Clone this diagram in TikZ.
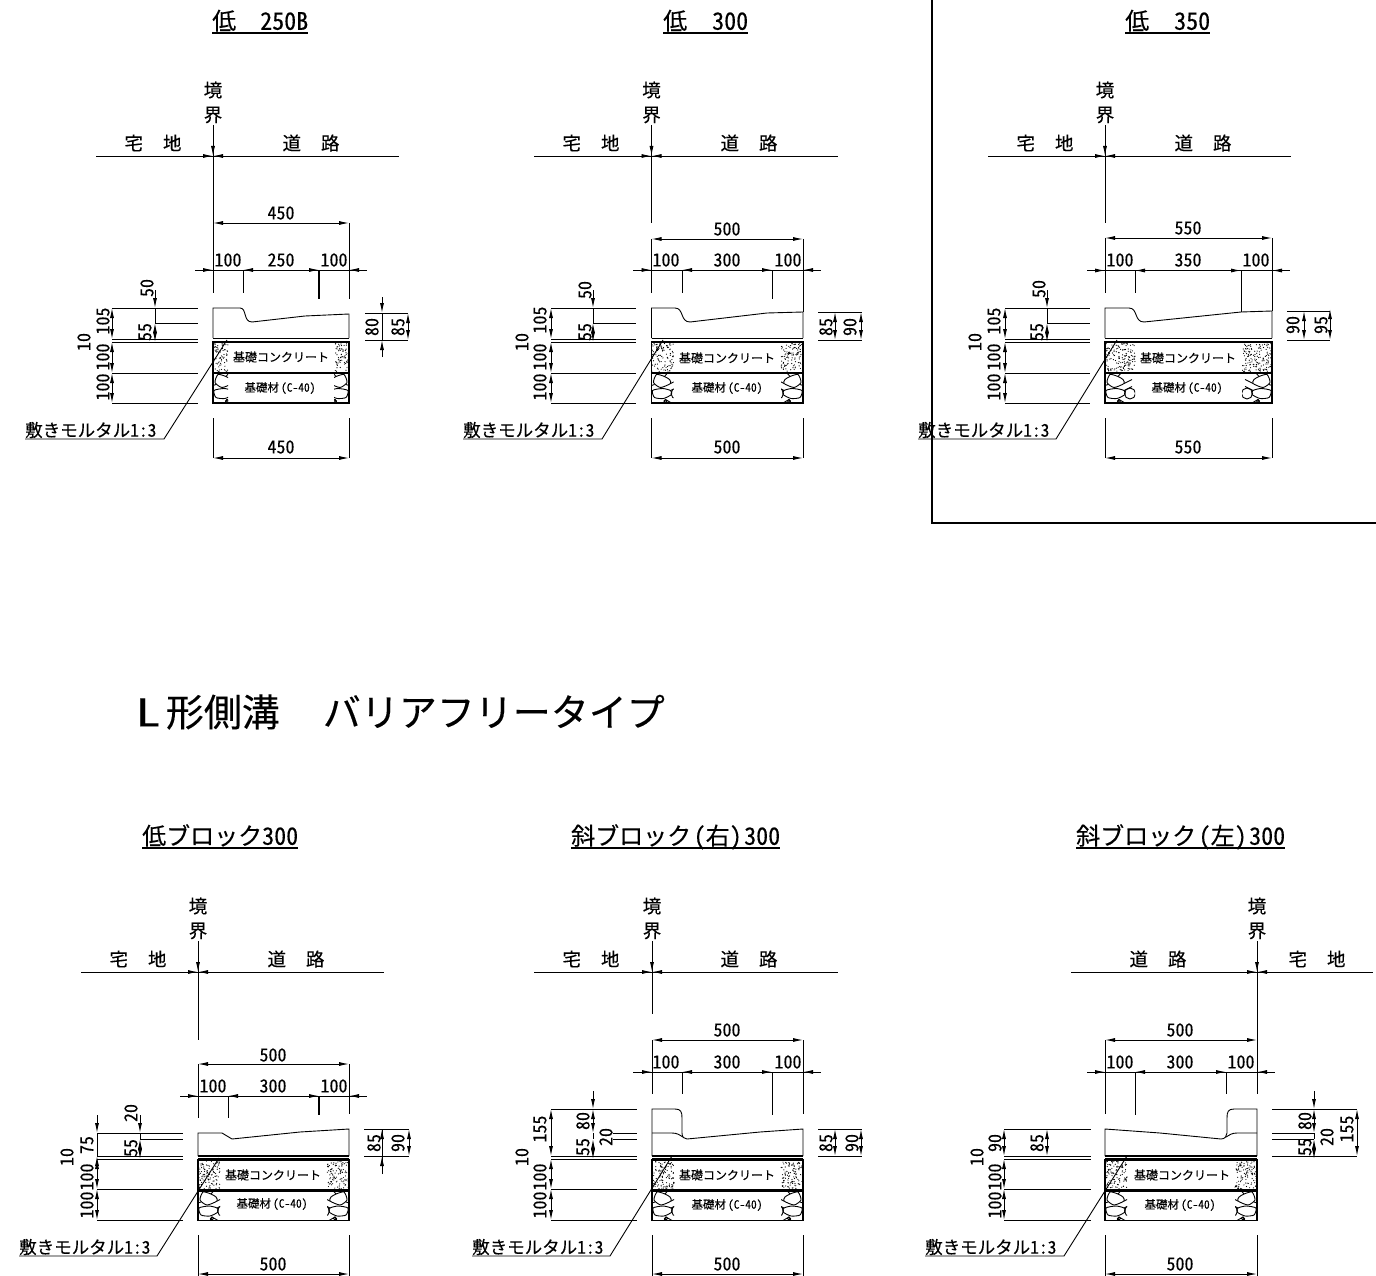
\documentclass[tikz,border=0pt]{standalone}
\usepackage{fontspec}
\setmainfont[RawFeature=+hwid,FakeBold=0.2]{Noto Sans CJK JP}
\usetikzlibrary{arrows.meta}

\newcommand{\gapped}[2]{#1\hspace{20pt}#2}

\tikzset{
  fine/.style={line width=0.9pt},
  heavy/.style={line width=2.2pt},
  dimboth/.style={fine,{Latex[length=10pt,width=4pt]}-{Latex[length=10pt,width=4pt]}},
  dimto/.style={fine,-{Latex[length=10pt,width=4pt]}},
  lbl/.style={inner sep=0pt,font=\fontsize{18pt}{19pt}\selectfont},
  vlbl/.style={lbl,rotate=90},
  kbl/.style={inner sep=0pt,font=\fontsize{18.5pt}{19pt}\selectfont},
  lead/.style={inner sep=0pt,anchor=west,font=\fontsize{17.5pt}{18pt}\selectfont},
  mat/.style={inner sep=0pt,font=\fontsize{12pt}{13pt}\selectfont},
  matb/.style={inner sep=0pt,font=\fontsize{11.5pt}{12pt}\selectfont},
  ttl/.style={anchor=south west,inner sep=0pt,text height=18pt,text depth=3pt,
    font=\fontsize{24pt}{25pt}\selectfont},
}

% boundary mark: x, y of the ground line, then its two ends
\newcommand{\boundmark}[4]{
  \draw[fine] (#3,#2)--(#4,#2);
  \draw[dimto] (#1,#2-14)--(#1,#2);
  \draw[dimto] (#1-12,#2)--(#1,#2);
  \draw[dimto] (#1+12,#2)--(#1,#2);
}

% dimension row: line start, left, tick, tick, right, line end, y
\newcommand{\dimrow}[7]{
  \draw[fine] (#1,#7)--(#6,#7);
  \draw[dimto] (#2-10,#7)--(#2,#7);
  \draw[dimto] (#3+11,#7)--(#3,#7);
  \draw[dimto] (#4-11,#7)--(#4,#7);
  \draw[dimto] (#5+10,#7)--(#5,#7);
}

% foundation layers: left, right, top y, hatch width, seed
\newcommand{\foundation}[5]{
  \pgfmathsetmacro{\wid}{#2-#1}
  \pgfmathtruncatemacro{\ndots}{5*#4}
  \begin{scope}[shift={(#1,#3)}]
    \draw[line width=1.2pt] (0,0)--(\wid,0);
    \draw[heavy] (0,3.5)--(\wid,3.5);
    \draw[heavy] (0,34.5)--(\wid,34.5);
    \draw[line width=1.6pt] (0,3.5) rectangle (\wid,64.5);
    \pgfmathsetseed{#5}
    \foreach \i in {1,...,\ndots}{
      \fill ({rnd*#4},{5+rnd*28}) circle (0.6);
      \fill ({\wid-rnd*#4},{5+rnd*28}) circle (0.6);
    }
    \begin{scope}
      \clip (0,34.5) rectangle (#4,64.5);
      \stones
    \end{scope}
    \begin{scope}[shift={(\wid,0)},xscale=-1]
      \clip (0,34.5) rectangle (#4,64.5);
      \stones
    \end{scope}
  \end{scope}
}
\newcommand{\stones}{
  \draw[fine] plot[smooth cycle,tension=0.4] coordinates {(5,36) (13,38) (18,41) (19,45) (9,49) (2,44)};
  \draw[fine] plot[smooth cycle,tension=0.4] coordinates {(1,52) (11,50) (19,52) (20,56) (12,60) (3,59)};
  \draw[fine] (0,47)--(3,46) (19,45)--(27,41) (13,38)--(16,34.5) (19,52)--(27,48);
  \draw[fine] (25,55) circle (5.5);
  \draw[fine] (12,64.5)--(14,61)--(20,64.5);
  \draw[fine] (14,62.5) circle (1.5);
}

\begin{document}
\begin{tikzpicture}[x=1pt,y=-1pt]
\useasboundingbox (0,0) rectangle (1376,1276);

% heading and frame
\node[inner sep=0pt,anchor=west,font=\fontsize{38pt}{40pt}\selectfont] (headline) at (135,712) {\scalebox{1.35}[1]{L}\hspace{5pt}形側溝\hspace{43pt}バリアフリータイプ};
\draw[line width=1.6pt] (932,0)--(932,523)--(1376,523);

\node[ttl] (ta) at (212,33) {低\hspace{24pt}250B};
\node[ttl] (tb) at (663,33) {低\hspace{25pt}300};
\node[ttl] (tc) at (1125,33) {低\hspace{25pt}350};
\node[ttl] (td) at (142,848) {低ブロック300};
\node[ttl] (te) at (571,848) {斜ブロック\hspace{2.5pt}(右)\hspace{2.5pt}300};
\node[ttl] (tf) at (1076,848) {斜ブロック\hspace{2.5pt}(左)\hspace{2.5pt}300};
\foreach \t in {ta,tb,tc,td,te,tf}
  \draw[line width=1.2pt] (\t.south west)--(\t.south east);

% ---- low 250B
\boundmark{213}{156}{96}{399}
\node[kbl] (a1) at (213,90) {境};
\node[kbl] (a2) at (213,115) {界};
\node[kbl] (a3) at (153,143) {\gapped{宅}{地}};
\node[kbl] (a4) at (311,143) {\gapped{道}{路}};
\draw[fine] (213,125)--(213,293);
\draw[fine] (349,223)--(349,299);
\draw[dimboth] (213,223)--(349,223);
\node[lbl] (a5) at (281,213) {450};
\dimrow{195}{213}{243}{319}{349}{367}{270}
\draw[fine] (243,270)--(243,293);
\draw[line width=1.2pt] (319,270)--(319,299);
\node[lbl] (a6) at (228,260) {100};
\node[lbl] (a7) at (281,260) {250};
\node[lbl] (a8) at (334,260) {100};
\draw[fine] (213,338)--(213,308)--(240,308) .. controls (247,308) and (243,322) .. (252,322)--(305,316)--(349,314)--(349,338);
\foundation{213}{349}{338.5}{15}{11}
\node[mat] (a9) at (281,357) {基礎コンクリート};
\node[matb] (a10) at (280,388) {基礎材\hspace{2pt}(C-40)};
\draw[fine] (112,308)--(198,308) (155,323)--(198,323) (112,339)--(198,339) (112,342)--(198,342) (112,373)--(198,373) (112,403)--(198,403);
\draw[dimboth] (112,308)--(112,339);
\draw[dimboth] (112,342)--(112,373);
\draw[dimboth] (112,373)--(112,403);
\draw[dimto] (155,290)--(155,308);
\draw[fine] (155,308)--(155,323);
\draw[dimboth] (155,323)--(155,342);
\node[vlbl] (a11) at (147,288) {50};
\node[vlbl] (a12) at (145,332) {55};
\node[vlbl] (a13) at (103,321) {105};
\node[vlbl] (a14) at (84,342) {10};
\node[vlbl] (a15) at (103,357) {100};
\node[vlbl] (a16) at (103,387) {100};
\draw[fine] (365,313)--(408,313) (365,340)--(408,340);
\draw[dimto] (382,297)--(382,313);
\draw[fine] (382,313)--(382,340);
\draw[dimto] (382,357)--(382,340);
\draw[dimboth] (408,313)--(408,340);
\node[vlbl] (a17) at (372,327) {80};
\node[vlbl] (a18) at (398,327) {85};
\draw[fine] (25,439)--(164,439)--(227,340);
\node[lead] (a19) at (25,430) {敷きモルタル1:3};
\draw[fine] (213,418)--(213,458) (349,418)--(349,458);
\draw[dimboth] (213,458)--(349,458);
\node[lbl] (a20) at (281,447) {450};

% ---- low 300
\boundmark{651.5}{156}{534}{838}
\node[kbl] (b1) at (651.5,90) {境};
\node[kbl] (b2) at (651.5,115) {界};
\node[kbl] (b3) at (591,143) {\gapped{宅}{地}};
\node[kbl] (b4) at (749,143) {\gapped{道}{路}};
\draw[fine] (651.5,125)--(651.5,223) (651.5,239)--(651.5,293);
\draw[fine] (803,239)--(803,312);
\draw[dimboth] (651.5,239)--(803,239);
\node[lbl] (b5) at (727,229) {500};
\dimrow{633}{651.5}{682}{772}{803}{821}{270}
\draw[fine] (682,270)--(682,293);
\draw[fine] (772,270)--(772,299);
\node[lbl] (b6) at (666,260) {100};
\node[lbl] (b7) at (727,260) {300};
\node[lbl] (b8) at (788,260) {100};
\draw[fine] (651.5,338)--(651.5,308)--(675,308) .. controls (684,308) and (680,322) .. (690,322)--(767,313)--(803,312)--(803,338);
\foundation{651.5}{803}{338.5}{22}{22}
\node[mat] (b9) at (727,358) {基礎コンクリート};
\node[matb] (b10) at (727,388) {基礎材\hspace{2pt}(C-40)};
\draw[fine] (551,308)--(636,308) (593,323)--(636,323) (551,339)--(636,339) (551,342)--(636,342) (551,373)--(636,373) (551,403)--(636,403);
\draw[dimboth] (551,308)--(551,339);
\draw[dimboth] (551,342)--(551,373);
\draw[dimboth] (551,373)--(551,403);
\draw[dimto] (593,290)--(593,308);
\draw[fine] (593,308)--(593,323);
\draw[dimboth] (593,323)--(593,342);
\node[vlbl] (b11) at (585,290) {50};
\node[vlbl] (b12) at (585,332) {55};
\node[vlbl] (b13) at (540,320) {105};
\node[vlbl] (b14) at (522,342) {10};
\node[vlbl] (b15) at (540,357) {100};
\node[vlbl] (b16) at (540,387) {100};
\draw[fine] (818,312)--(862,312) (818,340)--(862,340);
\draw[dimboth] (835,312)--(835,340);
\draw[dimboth] (861,312)--(861,340);
\node[vlbl] (b17) at (826,327) {85};
\node[vlbl] (b18) at (850,327) {90};
\draw[fine] (463,439)--(602,439)--(663,340);
\node[lead] (b19) at (463,430) {敷きモルタル1:3};
\draw[fine] (651.5,418)--(651.5,458) (803,418)--(803,458);
\draw[dimboth] (651.5,458)--(803,458);
\node[lbl] (b20) at (727,447) {500};

% ---- low 350
\boundmark{1105}{156}{988}{1291}
\node[kbl] (c1) at (1105,90) {境};
\node[kbl] (c2) at (1105,115) {界};
\node[kbl] (c3) at (1045,143) {\gapped{宅}{地}};
\node[kbl] (c4) at (1203,143) {\gapped{道}{路}};
\draw[fine] (1105,125)--(1105,223) (1105,238)--(1105,293);
\draw[fine] (1272,238)--(1272,311);
\draw[dimboth] (1105,238)--(1272,238);
\node[lbl] (c5) at (1188,228) {550};
\dimrow{1087}{1105}{1135}{1241}{1272}{1290}{270.5}
\draw[fine] (1135,270)--(1135,293);
\draw[fine] (1241,270)--(1241,312);
\node[lbl] (c6) at (1120,260) {100};
\node[lbl] (c7) at (1188,260) {350};
\node[lbl] (c8) at (1256,260) {100};
\draw[fine] (1105,338)--(1105,308)--(1129,308) .. controls (1138,308) and (1134,322) .. (1144,322)--(1241,312)--(1272,311)--(1272,338);
\foundation{1105}{1272}{338.5}{30}{33}
\node[mat] (c9) at (1188,358) {基礎コンクリート};
\node[matb] (c10) at (1187,388) {基礎材\hspace{2pt}(C-40)};
\draw[fine] (1005,308)--(1090,308) (1047,323)--(1090,323) (1005,339)--(1090,339) (1005,342)--(1090,342) (1005,373)--(1090,373) (1005,403)--(1090,403);
\draw[dimboth] (1005,308)--(1005,339);
\draw[dimboth] (1005,342)--(1005,373);
\draw[dimboth] (1005,373)--(1005,403);
\draw[dimto] (1047,290)--(1047,308);
\draw[fine] (1047,308)--(1047,323);
\draw[dimboth] (1047,323)--(1047,342);
\node[vlbl] (c11) at (1039,289) {50};
\node[vlbl] (c12) at (1037,332) {55};
\node[vlbl] (c13) at (994,321) {105};
\node[vlbl] (c14) at (975,342) {10};
\node[vlbl] (c15) at (994,357) {100};
\node[vlbl] (c16) at (994,387) {100};
\draw[fine] (1287,311)--(1330,311) (1287,340)--(1330,340);
\draw[dimboth] (1304,311)--(1304,340);
\draw[dimboth] (1330,309)--(1330,340);
\node[vlbl] (c17) at (1293,325) {90};
\node[vlbl] (c18) at (1321,325) {95};
\draw[fine] (918,439)--(1056,439)--(1117,340);
\node[lead] (c19) at (918,430) {敷きモルタル1:3};
\draw[fine] (1105,418)--(1105,458) (1272,418)--(1272,458);
\draw[dimboth] (1105,458)--(1272,458);
\node[lbl] (c20) at (1188,447) {550};

% ---- low block 300
\boundmark{198}{972}{81}{384}
\node[kbl] (d1) at (198,906) {境};
\node[kbl] (d2) at (198,931) {界};
\node[kbl] (d3) at (138,959) {\gapped{宅}{地}};
\node[kbl] (d4) at (296,959) {\gapped{道}{路}};
\draw[fine] (198,941)--(198,1040) (198,1064)--(198,1118);
\draw[fine] (349,1064)--(349,1114);
\draw[dimboth] (198,1064)--(349,1064);
\node[lbl] (d5) at (273,1055) {500};
\dimrow{180}{198}{228}{319}{349}{367}{1096}
\draw[fine] (228,1096)--(228,1118);
\draw[line width=1.2pt] (319,1096)--(319,1115);
\node[lbl] (d6) at (213,1086) {100};
\node[lbl] (d7) at (273,1086) {300};
\node[lbl] (d8) at (334,1086) {100};
\draw[fine] (198,1156)--(198,1133)--(222,1133)--(232,1139)--(300,1132)--(349,1129)--(349,1156);
\foundation{198}{349}{1156}{22}{44}
\node[mat] (d9) at (273,1175) {基礎コンクリート};
\node[matb] (d10) at (272,1204) {基礎材\hspace{2pt}(C-40)};
\draw[fine] (97,1133)--(183,1133) (140,1139)--(183,1139) (97,1156)--(183,1156) (97,1159)--(183,1159) (97,1189)--(183,1189) (97,1220)--(183,1220);
\draw[dimto] (97,1115)--(97,1133);
\draw[fine] (97,1133)--(97,1156);
\draw[dimto] (97,1170)--(97,1156);
\draw[dimboth] (97,1159)--(97,1189);
\draw[dimboth] (97,1189)--(97,1220);
\draw[dimto] (140,1115)--(140,1133);
\draw[fine] (140,1133)--(140,1139);
\draw[dimboth] (140,1139)--(140,1159);
\node[vlbl] (d11) at (131,1113) {20};
\node[vlbl] (d12) at (131,1148) {55};
\node[vlbl] (d13) at (87,1145) {75};
\node[vlbl] (d14) at (67,1157) {10};
\node[vlbl] (d15) at (87,1177) {100};
\node[vlbl] (d16) at (87,1205) {100};
\draw[fine] (364,1129)--(409,1129) (364,1156)--(409,1156);
\draw[fine] (382,1129)--(382,1174);
\draw[dimto] (382,1145)--(382,1129);
\draw[dimto] (382,1174)--(382,1156);
\draw[dimboth] (409,1129)--(409,1156);
\node[vlbl] (d17) at (374,1143) {85};
\node[vlbl] (d18) at (398,1143) {90};
\draw[fine] (19,1256)--(157,1256)--(219,1158);
\node[lead] (d19) at (19,1247) {敷きモルタル1:3};
\draw[fine] (198,1235)--(198,1276) (349,1235)--(349,1276);
\draw[dimboth] (198,1274)--(349,1274);
\node[lbl] (d20) at (273,1264) {500};

% ---- slant block right
\boundmark{652}{972}{534}{838}
\node[kbl] (e1) at (652,906) {境};
\node[kbl] (e2) at (652,931) {界};
\node[kbl] (e3) at (591,959) {\gapped{宅}{地}};
\node[kbl] (e4) at (749,959) {\gapped{道}{路}};
\draw[fine] (652,941)--(652,1014) (652,1040)--(652,1094);
\draw[fine] (803,1040)--(803,1114);
\draw[dimboth] (652,1040)--(803,1040);
\node[lbl] (e5) at (727,1030) {500};
\dimrow{633}{652}{682}{772}{803}{821}{1072}
\draw[fine] (682,1072)--(682,1094);
\draw[fine] (772,1072)--(772,1115);
\node[lbl] (e6) at (666,1062) {100};
\node[lbl] (e7) at (727,1062) {300};
\node[lbl] (e8) at (788,1062) {100};
\draw[fine] (652,1156)--(652,1109)--(675,1109) .. controls (681,1109) and (682,1112) .. (682,1118)--(682,1133) .. controls (682,1137) and (684,1139) .. (687,1139)--(760,1132)--(803,1129)--(803,1156);
\draw[fine] (652,1133)--(672,1133) .. controls (677,1133) and (680,1135) .. (683,1137);
\foundation{652}{803}{1156}{22}{55}
\node[mat] (e9) at (727,1175) {基礎コンクリート};
\node[matb] (e10) at (727,1205) {基礎材\hspace{2pt}(C-40)};
\draw[fine] (551,1109)--(637,1109) (613,1133)--(637,1133) (613,1139)--(637,1139) (551,1156)--(637,1156) (551,1159)--(637,1159) (551,1189)--(637,1189) (551,1220)--(637,1220);
\draw[dimboth] (551,1109)--(551,1156);
\draw[dimboth] (551,1159)--(551,1189);
\draw[dimboth] (551,1189)--(551,1220);
\draw[dimto] (593,1091)--(593,1109);
\draw[dimboth] (593,1109)--(593,1133);
\draw[fine] (593,1133)--(593,1139);
\draw[dimboth] (593,1139)--(593,1159);
\node[vlbl] (e11) at (583,1121) {80};
\node[vlbl] (e12) at (583,1147) {55};
\node[vlbl] (e13) at (606,1137) {20};
\node[vlbl] (e14) at (540,1129) {155};
\node[vlbl] (e15) at (522,1157) {10};
\node[vlbl] (e16) at (540,1177) {100};
\node[vlbl] (e17) at (540,1205) {100};
\draw[fine] (818,1129)--(862,1129) (818,1156)--(862,1156);
\draw[dimboth] (835,1129)--(835,1156);
\draw[dimboth] (861,1129)--(861,1156);
\node[vlbl] (e18) at (826,1143) {85};
\node[vlbl] (e19) at (852,1143) {90};
\draw[fine] (472,1256)--(610,1256)--(672,1156);
\node[lead] (e20) at (472,1247) {敷きモルタル1:3};
\draw[fine] (652,1235)--(652,1276) (803,1235)--(803,1276);
\draw[dimboth] (652,1274)--(803,1274);
\node[lbl] (e21) at (727,1264) {500};

% ---- slant block left
\boundmark{1257}{972}{1071}{1373}
\node[kbl] (f1) at (1257,906) {境};
\node[kbl] (f2) at (1257,931) {界};
\node[kbl] (f3) at (1158,959) {\gapped{道}{路}};
\node[kbl] (f4) at (1317,959) {\gapped{宅}{地}};
\draw[fine] (1257,941)--(1257,1094);
\draw[fine] (1105,1040)--(1105,1114);
\draw[dimboth] (1105,1040)--(1257,1040);
\node[lbl] (f5) at (1180,1030) {500};
\dimrow{1087}{1105}{1135}{1226}{1257}{1275}{1072}
\draw[fine] (1135,1072)--(1135,1115);
\draw[fine] (1226,1072)--(1226,1094);
\node[lbl] (f6) at (1120,1062) {100};
\node[lbl] (f7) at (1180,1062) {300};
\node[lbl] (f8) at (1241,1062) {100};
\draw[fine] (1105,1156)--(1105,1129)--(1160,1133)--(1221,1139) .. controls (1225,1139) and (1227,1136) .. (1227,1133)--(1227,1118) .. controls (1227,1112) and (1228,1109) .. (1234,1109)--(1257,1109)--(1257,1156);
\draw[fine] (1226,1137) .. controls (1229,1135) and (1232,1133) .. (1237,1133)--(1257,1133);
\foundation{1105}{1257}{1156}{22}{66}
\node[mat] (f9) at (1182,1175) {基礎コンクリート};
\node[matb] (f10) at (1180,1205) {基礎材\hspace{2pt}(C-40)};
\draw[fine] (1004,1129)--(1091,1129) (1004,1156)--(1091,1156) (1004,1159)--(1091,1159) (1004,1189)--(1091,1189) (1004,1220)--(1091,1220);
\draw[dimboth] (1004,1129)--(1004,1156);
\draw[dimboth] (1004,1159)--(1004,1189);
\draw[dimboth] (1004,1189)--(1004,1220);
\draw[dimboth] (1047,1129)--(1047,1156);
\node[vlbl] (f11) at (1037,1143) {85};
\node[vlbl] (f12) at (995,1143) {90};
\node[vlbl] (f13) at (977,1157) {10};
\node[vlbl] (f14) at (995,1177) {100};
\node[vlbl] (f15) at (995,1205) {100};
\draw[fine] (1272,1109)--(1357,1109) (1272,1133)--(1314,1133) (1272,1139)--(1314,1139) (1272,1156)--(1357,1156);
\draw[dimboth] (1357,1109)--(1357,1156);
\draw[dimto] (1314,1091)--(1314,1109);
\draw[dimboth] (1314,1109)--(1314,1133);
\draw[fine] (1314,1133)--(1314,1139);
\draw[dimboth] (1314,1139)--(1314,1159);
\node[vlbl] (f16) at (1305,1121) {80};
\node[vlbl] (f17) at (1305,1147) {55};
\node[vlbl] (f18) at (1327,1137) {20};
\node[vlbl] (f19) at (1347,1129) {155};
\draw[fine] (925,1256)--(1064,1256)--(1127,1156);
\node[lead] (f20) at (925,1247) {敷きモルタル1:3};
\draw[fine] (1105,1235)--(1105,1276) (1257,1235)--(1257,1276);
\draw[dimboth] (1105,1274)--(1257,1274);
\node[lbl] (f21) at (1180,1264) {500};
\end{tikzpicture}
\end{document}
